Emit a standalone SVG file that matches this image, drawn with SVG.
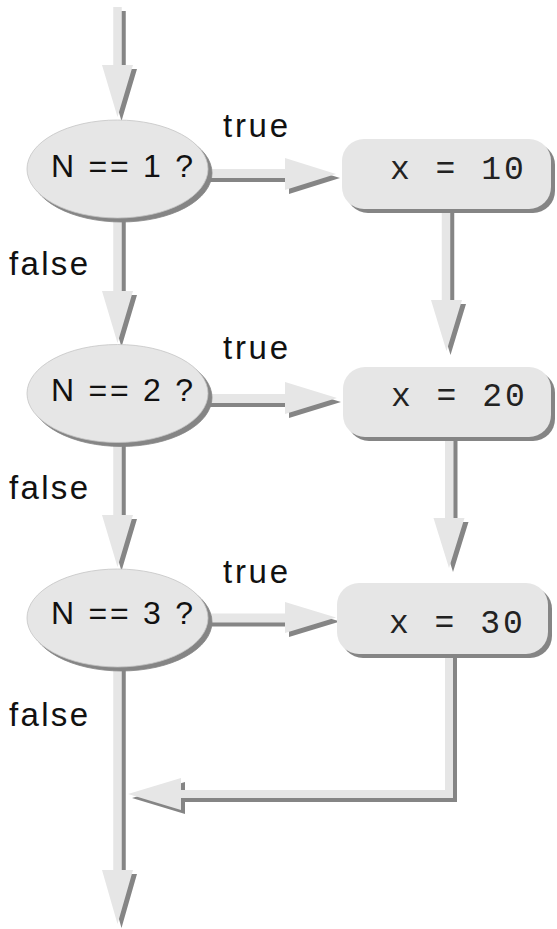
<svg xmlns="http://www.w3.org/2000/svg" width="557" height="929" viewBox="0 0 557 929">
  <defs>
    <filter id="sh" x="-20%" y="-20%" width="140%" height="140%" color-interpolation-filters="sRGB">
      <feOffset in="SourceAlpha" dx="3.5" dy="3.5" result="off"/>
      <feFlood flood-color="#858585"/>
      <feComposite in2="off" operator="in" result="shadow"/>
      <feMerge>
        <feMergeNode in="shadow"/>
        <feMergeNode in="SourceGraphic"/>
      </feMerge>
    </filter>
  </defs>
  <style>
    .conn { fill: #e6e6e6; filter: url(#sh); }
    .dec { fill: #e6e6e6; stroke: #c4c4c4; stroke-width: 0.8; filter: url(#sh); }
    .act { fill: #e6e6e6; filter: url(#sh); }
    .lbl { font-family: "Liberation Sans", Arial, sans-serif; font-size: 33px; fill: #111; }
    .cond { font-family: "Liberation Sans", Arial, sans-serif; font-size: 32px; fill: #111; }
    .code { font-family: "Liberation Mono", "Courier New", monospace; font-size: 33px; letter-spacing: 3px; fill: #222; }
  </style>

  <g id="connectors">
    <polygon class="conn" points="113.25,7 121.75,7 121.75,65 133,65 117.5,117 102,65 113.25,65"/>
    <polygon class="conn" points="113.25,212 121.75,212 121.75,291 133,291 117.5,343 102,291 113.25,291"/>
    <polygon class="conn" points="113.25,436 121.75,436 121.75,515 133,515 117.5,567 102,515 113.25,515"/>
    <polygon class="conn" points="113.25,660 121.75,660 121.75,870 133,870 117.5,924 102,870 113.25,870"/>
    <polygon class="conn" points="200,169 285,169 285,158 336,174 285,190 285,178 200,178"/>
    <polygon class="conn" points="200,394 285,394 285,382 337,398 285,414 285,403 200,403"/>
    <polygon class="conn" points="200,613.5 285,613.5 285,602 336,617.5 285,633 285,622.5 200,622.5"/>
    <polygon class="conn" points="441.75,205 450.25,205 450.25,300 462,300 446.5,351 431,300 441.75,300"/>
    <polygon class="conn" points="445,432 453.5,432 453.5,518 464.5,518 449,568 433.5,518 445,518"/>
    <polygon class="conn" points="445,650 453,650 453,798 181,798 181,810 128,794 181,778 181,790 445,790"/>
  </g>

  <g id="dec1">
    <ellipse class="dec" cx="117.5" cy="169" rx="90.5" ry="49"/>
    <text class="cond" x="51" y="176.5" textLength="142" lengthAdjust="spacing">N == 1 ?</text>
  </g>
  <g id="dec2">
    <ellipse class="dec" cx="117.5" cy="393.5" rx="90.5" ry="49"/>
    <text class="cond" x="51" y="400.5" textLength="142" lengthAdjust="spacing">N == 2 ?</text>
  </g>
  <g id="dec3">
    <ellipse class="dec" cx="117.5" cy="618" rx="90.5" ry="49"/>
    <text class="cond" x="51" y="624" textLength="142" lengthAdjust="spacing">N == 3 ?</text>
  </g>

  <g id="act1">
    <rect class="act" x="342" y="139" width="209" height="70" rx="22" ry="22"/>
    <text class="code" x="390" y="179">x = 10</text>
  </g>
  <g id="act2">
    <rect class="act" x="343" y="367" width="208" height="70" rx="22" ry="22"/>
    <text class="code" x="391" y="406">x = 20</text>
  </g>
  <g id="act3">
    <rect class="act" x="337" y="583" width="211" height="71" rx="22" ry="22"/>
    <text class="code" x="389" y="633">x = 30</text>
  </g>

  <g id="labels">
    <text class="lbl" x="223" y="137" textLength="65" lengthAdjust="spacing">true</text>
    <text class="lbl" x="223" y="359" textLength="65" lengthAdjust="spacing">true</text>
    <text class="lbl" x="223" y="583" textLength="65" lengthAdjust="spacing">true</text>
    <text class="lbl" x="9" y="274.5" textLength="79" lengthAdjust="spacing">false</text>
    <text class="lbl" x="9" y="498.5" textLength="79" lengthAdjust="spacing">false</text>
    <text class="lbl" x="9" y="725.5" textLength="79" lengthAdjust="spacing">false</text>
  </g>
</svg>
